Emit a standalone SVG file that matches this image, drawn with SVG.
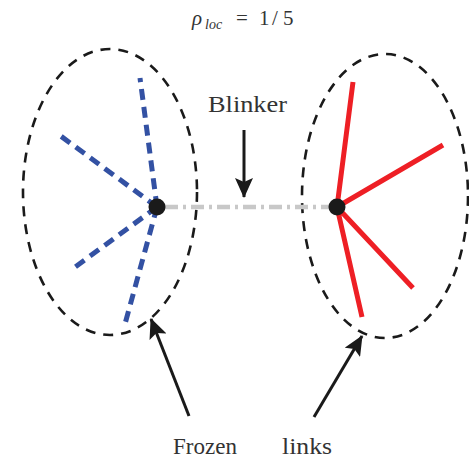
<svg xmlns="http://www.w3.org/2000/svg" width="469" height="459" viewBox="0 0 469 459">
<style>
.ell{fill:none;stroke:#1a1a1a;stroke-width:2.6;stroke-dasharray:10 8}
.blue{stroke:#3351a3;stroke-width:5;stroke-dasharray:11 7;fill:none}
.red{stroke:#ee1f25;stroke-width:5;fill:none}
.gray{stroke:#c8c8c8;stroke-width:4.5;stroke-dasharray:13 5 3 5;fill:none}
.arr{stroke:#1a1a1a;stroke-width:3;fill:none;marker-end:url(#ah)}
.node{fill:#1a1a1a}
.serif{font-family:"Liberation Serif","DejaVu Serif",serif;fill:#333}
.lbl{font-size:24px}
</style>
<defs>
<marker id="ah" viewBox="0 0 20 18" refX="19" refY="9" markerWidth="20" markerHeight="18" markerUnits="userSpaceOnUse" orient="auto">
<path d="M0,0 L20,9 L0,18 L4,9 Z" fill="#1a1a1a"/>
</marker>
</defs>
<g id="title"><text class="serif" x="192" y="25" font-size="21"><tspan font-style="italic">ρ</tspan><tspan font-style="italic" font-size="14" x="205" dy="4">loc</tspan><tspan x="236" dy="-4">=</tspan><tspan x="259">1</tspan><tspan x="272">/</tspan><tspan x="283">5</tspan></text></g>
<g id="left-cluster">
<ellipse class="ell" cx="110" cy="192" rx="87" ry="143"/>
<path class="blue" d="M157,207 L140,78 M157,207 L58,134 M157,207 L71,270 M157,207 L125,324"/>
</g>
<g id="right-cluster">
<ellipse class="ell" cx="385" cy="196" rx="83" ry="142"/>
<path class="red" d="M337,207 L353,82 M337,207 L443,145 M337,207 L413,288 M337,207 L362,317"/>
</g>
<g id="connectors">
<line class="gray" x1="165" y1="207" x2="330" y2="207"/>
<line class="arr" x1="244" y1="130" x2="244" y2="197"/>
<line class="arr" x1="189" y1="416" x2="151" y2="319"/>
<line class="arr" x1="314" y1="417" x2="362" y2="336"/>
</g>
<g id="node-left"><circle class="node" cx="157" cy="207" r="8.5"/></g>
<g id="node-right"><circle class="node" cx="337" cy="207" r="8.5"/></g>
<g id="label-blinker"><text class="serif lbl" x="208" y="112" textLength="79" lengthAdjust="spacingAndGlyphs">Blinker</text></g>
<g id="label-frozen"><text class="serif lbl" x="173" y="454" textLength="64" lengthAdjust="spacingAndGlyphs">Frozen</text></g>
<g id="label-links"><text class="serif lbl" x="282" y="454" textLength="50" lengthAdjust="spacingAndGlyphs">links</text></g>
</svg>
